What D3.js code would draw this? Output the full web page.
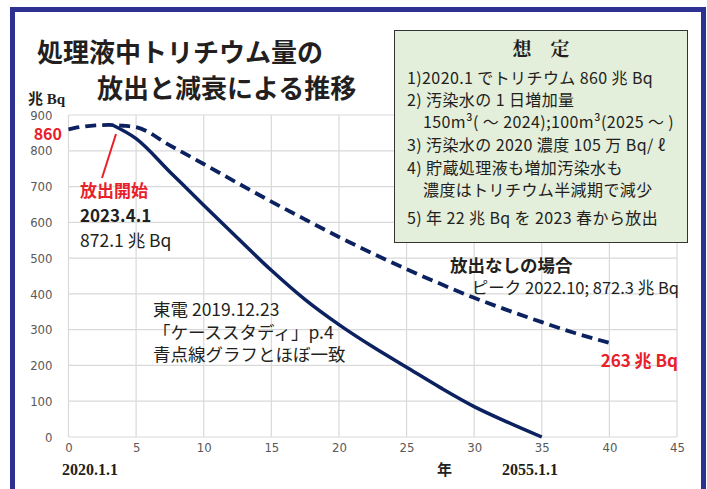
<!DOCTYPE html>
<html>
<head>
<meta charset="utf-8">
<script src="https://cdn.jsdelivr.net/npm/d3@7"></script>
<style>
  body { margin: 0; background: #fff; }
  svg { display: block; font-family: "Noto Sans CJK JP", "Noto Sans", sans-serif; }
  .tick text { font-family: "Liberation Sans Narrow", "DejaVu Sans Condensed", sans-serif; fill: #595959; font-size: 13px; }
</style>
</head>
<body>
<svg id="chart"></svg>
<script>
var width = 707, height = 489;

// years since 2020.1.1 and stored tritium (兆 Bq)
var years_norelease = [0, 1, 2, 3, 4, 5, 7.5, 10, 12.5, 15, 17.5, 20, 22.5, 25, 27.5, 30, 32.5, 35, 37.5, 40];
var values_norelease = [860, 867, 871, 872.2, 870, 866, 815, 763, 710, 658, 608, 559, 513, 469, 428, 389, 354, 321, 290, 263];
var years_release = [3.25, 5, 7.5, 10, 12.5, 15, 17.5, 20, 22.5, 25, 27.5, 30, 32.5, 35];
var values_release = [872.1, 834, 741, 648, 556, 466, 384, 314, 252, 195, 138, 85, 41, 0];
var x_ticks = [0, 5, 10, 15, 20, 25, 30, 35, 40, 45];
var y_ticks = [0, 100, 200, 300, 400, 500, 600, 700, 800, 900];

var title_lines = ["処理液中トリチウム量の", "放出と減衰による推移"];
var box_lines = [
  { t: "1)2020.1 でトリチウム 860 兆 Bq", indent: 0 },
  { t: "2) 汚染水の 1 日増加量", indent: 0 },
  { t: "150m³( ～ 2024);100m³(2025 ～ )", indent: 1 },
  { t: "3) 汚染水の 2020 濃度 105 万 Bq/ ℓ", indent: 0 },
  { t: "4) 貯蔵処理液も増加汚染水も", indent: 0 },
  { t: "濃度はトリチウム半減期で減少", indent: 1 },
  { t: "5) 年 22 兆 Bq を 2023 春から放出", indent: 0 }
];
var tepco_lines = ["東電 2019.12.23", "「ケーススタディ」p.4", "青点線グラフとほぼ一致"];

var navy = "#0b2160", red = "#e8202a";

var svg = d3.select("#chart").attr("width", width).attr("height", height);

var xScale = d3.scaleLinear().domain([0, 45]).range([68.5, 677]);
var yScale = d3.scaleLinear().domain([0, 900]).range([437, 115]);

// outer frame
svg.append("rect")
  .attr("x", 12.5).attr("y", 9.5)
  .attr("width", 691).attr("height", 520)
  .attr("fill", "none").attr("stroke", "#2e3192").attr("stroke-width", 5);

// grid
var grid = svg.append("g");
grid.selectAll("line.h").data(y_ticks).enter().append("line")
  .attr("x1", xScale(0)).attr("x2", xScale(45))
  .attr("y1", function(d) { return yScale(d); }).attr("y2", function(d) { return yScale(d); })
  .attr("stroke", "#d9d9d9").attr("stroke-width", 1.2);
grid.selectAll("line.v").data(x_ticks).enter().append("line")
  .attr("y1", yScale(0)).attr("y2", yScale(900))
  .attr("x1", function(d) { return xScale(d); }).attr("x2", function(d) { return xScale(d); })
  .attr("stroke", "#d9d9d9").attr("stroke-width", 1.2);

// axes (labels only)
var xAxis = d3.axisBottom(xScale).tickValues(x_ticks).tickSize(0).tickPadding(6);
var yAxis = d3.axisLeft(yScale).tickValues(y_ticks).tickSize(0).tickPadding(16);
svg.append("g").attr("transform", "translate(0," + yScale(0) + ")").call(xAxis)
  .call(function(g) { g.select(".domain").remove(); });
svg.append("g").attr("transform", "translate(" + xScale(0) + ",0)").call(yAxis)
  .call(function(g) { g.select(".domain").remove(); });

// assumption box
svg.append("rect")
  .attr("x", 394.5).attr("y", 30.5).attr("width", 293).attr("height", 212)
  .attr("fill", "#e3eedb").attr("stroke", "#333").attr("stroke-width", 1);

// lines
var line = d3.line()
  .x(function(d) { return xScale(d[0]); })
  .y(function(d) { return yScale(d[1]); })
  .curve(d3.curveMonotoneX);

svg.append("path")
  .datum(d3.zip(years_norelease, values_norelease))
  .attr("d", line)
  .attr("fill", "none").attr("stroke", navy).attr("stroke-width", 3.8)
  .attr("stroke-dasharray", "11,6");

svg.append("path")
  .datum(d3.zip(years_release, values_release))
  .attr("d", line)
  .attr("fill", "none").attr("stroke", navy).attr("stroke-width", 3.5);

// pointer to release start
svg.append("line")
  .attr("x1", 102).attr("y1", 178).attr("x2", 116).attr("y2", 134)
  .attr("stroke", red).attr("stroke-width", 2);

// title
svg.append("text").attr("x", 37).attr("y", 62)
  .attr("font-size", 26).attr("font-weight", "bold").attr("fill", "#231f20")
  .text(title_lines[0]);
svg.append("text").attr("x", 97).attr("y", 98)
  .attr("font-size", 26).attr("font-weight", "bold").attr("fill", "#231f20")
  .text(title_lines[1]);

// y unit + start value
svg.append("text").attr("x", 28).attr("y", 104)
  .attr("font-size", 15).attr("font-weight", "bold").attr("fill", "#231f20")
  .attr("font-family", "'Liberation Serif', 'Noto Sans CJK JP', serif")
  .text("兆 Bq");
svg.append("text").attr("x", 62).attr("y", 140).attr("text-anchor", "end")
  .attr("font-size", 16).attr("font-weight", "bold").attr("fill", red)
  .text("860");

// box text
svg.append("text").attr("x", 541).attr("y", 56).attr("text-anchor", "middle")
  .attr("font-size", 19).attr("font-weight", "bold").attr("fill", "#231f20")
  .attr("font-family", "'Noto Serif CJK JP', 'Noto Sans CJK JP', serif")
  .text("想　定");
var box_y = [84, 106, 128, 151, 174, 196, 224];
svg.selectAll("text.box").data(box_lines).enter().append("text")
  .attr("x", function(d) { return d.indent ? 423 : 407; })
  .attr("y", function(d, i) { return box_y[i]; })
  .attr("font-size", 16).attr("letter-spacing", "0.4").attr("fill", "#231f20")
  .text(function(d) { return d.t; });

// release start annotation
svg.append("text").attr("x", 80).attr("y", 197)
  .attr("font-size", 17).attr("font-weight", "bold").attr("fill", red).text("放出開始");
svg.append("text").attr("x", 80).attr("y", 222)
  .attr("font-size", 17).attr("font-weight", "bold").attr("fill", "#231f20").text("2023.4.1");
svg.append("text").attr("x", 80).attr("y", 247)
  .attr("font-size", 17.5).attr("fill", "#231f20").text("872.1 兆 Bq");

// no-release annotation
svg.append("text").attr("x", 450).attr("y", 272)
  .attr("font-size", 17.5).attr("font-weight", "bold").attr("fill", "#231f20").text("放出なしの場合");
svg.append("text").attr("x", 679).attr("y", 294).attr("text-anchor", "end")
  .attr("font-size", 16.5).attr("fill", "#231f20")
  .text("ピーク 2022.10; 872.3 兆 Bq");
svg.append("text").attr("x", 678).attr("y", 367).attr("text-anchor", "end")
  .attr("font-size", 17).attr("font-weight", "bold").attr("fill", red).text("263 兆 Bq");

// TEPCO note
svg.selectAll("text.tepco").data(tepco_lines).enter().append("text")
  .attr("x", 153)
  .attr("y", function(d, i) { return 316 + i * 22.5; })
  .attr("font-size", 17.5).attr("fill", "#231f20")
  .text(function(d) { return d; });

// bottom date labels
var serif = "'Liberation Serif', 'Noto Sans CJK JP', serif";
svg.append("text").attr("x", 62).attr("y", 475)
  .attr("font-size", 16).attr("font-weight", "bold").attr("font-family", serif).attr("fill", "#231f20")
  .text("2020.1.1");
svg.append("text").attr("x", 437).attr("y", 475)
  .attr("font-size", 15).attr("font-weight", "bold").attr("font-family", serif).attr("fill", "#231f20")
  .text("年");
svg.append("text").attr("x", 502).attr("y", 475)
  .attr("font-size", 16).attr("font-weight", "bold").attr("font-family", serif).attr("fill", "#231f20")
  .text("2055.1.1");
</script>
</body>
</html>
